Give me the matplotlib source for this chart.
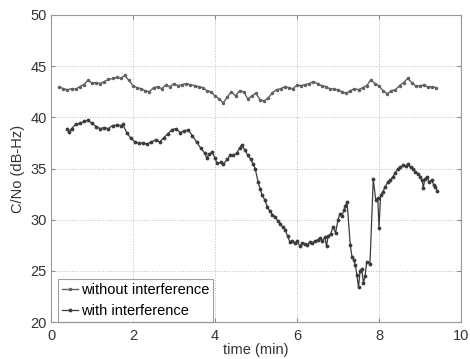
import numpy as np
import matplotlib
matplotlib.use("Agg")
import matplotlib.pyplot as plt

plt.rcParams['font.family'] = ['Liberation Sans', 'DejaVu Sans']

# without interference (time in min, C/No in dB-Hz)
t_without = [0.2, 0.3, 0.4, 0.5, 0.6, 0.7, 0.8, 0.9, 1.0, 1.1, 1.2, 1.3, 1.4, 1.5, 1.6, 1.7, 1.8, 1.9,
             2.0, 2.1, 2.2, 2.3, 2.4, 2.5, 2.6, 2.7, 2.8, 2.9, 3.0, 3.1, 3.2, 3.3, 3.4, 3.5, 3.6, 3.7,
             3.8, 3.9, 4.0, 4.1, 4.2, 4.3, 4.4, 4.5, 4.6, 4.7, 4.8, 4.9, 5.0, 5.1, 5.2, 5.3, 5.4, 5.5,
             5.6, 5.7, 5.8, 5.9, 6.0, 6.1, 6.2, 6.3, 6.4, 6.5, 6.6, 6.7, 6.8, 6.9, 7.0, 7.1, 7.2, 7.3,
             7.4, 7.5, 7.6, 7.7, 7.8, 7.9, 8.0, 8.1, 8.2, 8.3, 8.4, 8.5, 8.6, 8.7, 8.8, 8.9, 9.0, 9.1,
             9.2, 9.3, 9.4]
cn_without = [43.0, 42.8, 42.7, 42.8, 42.75, 43.0, 43.2, 43.6, 43.35, 43.4, 43.3, 43.5, 43.7, 43.8,
              43.9, 43.8, 44.1, 43.6, 43.1, 42.9, 42.8, 42.6, 42.5, 42.9, 43.0, 42.8, 43.15, 43.0,
              43.3, 43.1, 43.2, 43.3, 43.2, 43.1, 43.0, 42.9, 42.6, 42.5, 42.1, 41.8, 41.4, 42.0,
              42.5, 42.1, 42.6, 42.5, 41.8, 42.1, 42.35, 41.7, 41.6, 41.9, 42.4, 42.7, 42.8, 43.0,
              42.9, 42.8, 43.15, 43.1, 43.2, 43.3, 43.5, 43.3, 43.1, 43.0, 42.8, 42.75, 42.7, 42.5,
              42.35, 42.6, 42.8, 42.7, 42.9, 43.1, 43.65, 43.3, 43.06, 42.6, 42.3, 42.6, 42.7, 43.1,
              43.4, 43.8, 43.4, 43.05, 43.1, 43.15, 42.95, 43.0, 42.9]

# with interference
t_with = [0.4, 0.45, 0.5, 0.6, 0.7, 0.8, 0.9, 1.0, 1.1, 1.2, 1.3, 1.4, 1.5, 1.6, 1.7, 1.75, 1.85,
          1.95, 2.05, 2.15, 2.25, 2.35, 2.45, 2.55, 2.65, 2.75, 2.85, 2.95, 3.05, 3.15, 3.25, 3.35,
          3.45, 3.55, 3.65, 3.75, 3.8, 3.85, 3.93, 4.0, 4.05, 4.15, 4.2, 4.3, 4.37, 4.45, 4.53, 4.6,
          4.65, 4.73, 4.8, 4.87, 4.93, 4.98, 5.05, 5.1, 5.15, 5.22, 5.28, 5.34, 5.4, 5.46, 5.53,
          5.59, 5.65, 5.71, 5.77, 5.83, 5.89, 5.95, 6.01, 6.07, 6.13, 6.19, 6.25, 6.31, 6.37, 6.43,
          6.5, 6.56, 6.62, 6.68, 6.72, 6.76, 6.82, 6.88, 6.94, 7.0, 7.05, 7.1, 7.14, 7.18, 7.22,
          7.3, 7.34, 7.38, 7.42, 7.46, 7.5, 7.54, 7.58, 7.62, 7.66, 7.7, 7.78, 7.86, 7.92, 7.97,
          8.0, 8.04, 8.09, 8.15, 8.22, 8.28, 8.34, 8.4, 8.46, 8.52, 8.59, 8.65, 8.71, 8.77, 8.83,
          8.89, 8.95, 9.01, 9.05, 9.08, 9.12, 9.17, 9.22, 9.29, 9.33, 9.37, 9.42]
cn_with = [38.9, 38.6, 38.9, 39.3, 39.4, 39.6, 39.7, 39.4, 39.1, 38.9, 39.0, 38.9, 39.2, 39.25,
           39.2, 39.3, 38.5, 37.95, 37.6, 37.45, 37.5, 37.4, 37.6, 37.8, 37.6, 38.0, 38.4, 38.8,
           38.9, 38.5, 38.7, 38.76, 38.2, 37.6, 37.0, 36.5, 36.0, 36.4, 36.6, 36.0, 35.5, 35.6,
           35.4, 35.9, 36.3, 36.3, 36.5, 37.0, 37.3, 36.8, 36.3, 35.9, 35.4, 35.0, 33.7, 33.0,
           32.4, 31.9, 31.2, 30.8, 30.5, 30.3, 29.9, 29.6, 29.3, 29.0, 28.4, 27.8, 27.9, 27.7,
           27.9, 27.4, 27.7, 27.6, 27.5, 27.8, 27.7, 27.9, 28.0, 28.2, 27.9, 28.3, 27.4, 28.4,
           28.6, 29.3, 28.7, 30.0, 30.6, 30.4, 30.9, 31.3, 31.75, 27.5, 26.4, 26.1, 25.6, 24.6,
           23.4, 25.0, 25.2, 23.8, 24.5, 25.9, 25.7, 34.0, 31.9, 32.1, 29.2, 32.4, 32.7, 33.2,
           33.7, 33.9, 34.2, 34.6, 35.0, 35.1, 35.3, 35.2, 35.4, 35.1, 35.0, 34.7, 34.5, 34.2,
           33.9, 33.1, 34.0, 34.2, 33.7, 33.9, 33.4, 33.2, 32.8]

x_ticks = [0, 2, 4, 6, 8, 10]
y_ticks = [20, 25, 30, 35, 40, 45, 50]

fig = plt.figure(figsize=(4.7, 3.59), dpi=100)
ax = fig.add_axes([51/470, 1-322/359, 410/470, 307/359])

ax.plot(t_without, cn_without, '-', color='#606060', lw=1.0, marker='.', ms=3,
        label='without interference')
ax.plot(t_with, cn_with, '-', color='#3c3c3c', lw=0.9, marker='.', ms=3.5,
        label='with interference')

ax.set_xlim(0, 10)
ax.set_ylim(20, 50)
ax.set_xticks(x_ticks)
ax.set_yticks(y_ticks)
ax.tick_params(direction='in', top=True, right=True, length=3, labelsize=10.5,
               color='#888888', labelcolor='#333333')
ax.tick_params(axis='x', pad=5)
ax.tick_params(axis='y', pad=3)
for s in ax.spines.values():
    s.set_color('#999999')
    s.set_linewidth(0.8)
ax.grid(True, linestyle=':', color='#bbbbbb', linewidth=0.7)
ax.set_xlabel('time (min)', fontsize=10.5, color='#333333', labelpad=0)
ax.set_ylabel('C/No (dB-Hz)', fontsize=10.5, color='#333333', labelpad=4)

leg = ax.legend(loc='lower left', bbox_to_anchor=(0.017, 0.0), borderaxespad=0.0,
                fontsize=10.5, frameon=True, fancybox=False, handlelength=1.1,
                handletextpad=0.15, borderpad=0.3, labelspacing=0.45)
leg.get_frame().set_edgecolor('#888888')
leg.get_frame().set_linewidth(0.8)

fig.savefig('out.png', dpi=100)
